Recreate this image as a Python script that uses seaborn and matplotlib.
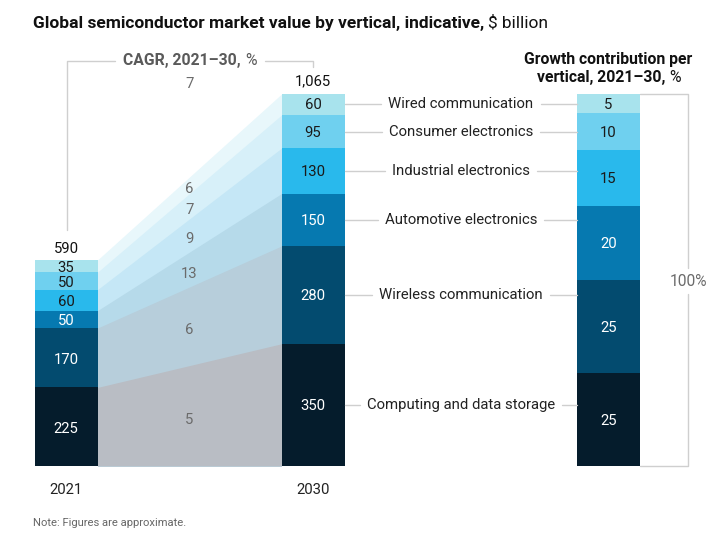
import matplotlib.pyplot as plt
from matplotlib.lines import Line2D
import numpy as np
import pandas as pd
import seaborn as sns

W, H = 722, 538

# data, bottom segment first
verticals = ['Computing and data storage', 'Wireless communication',
             'Automotive electronics', 'Industrial electronics',
             'Consumer electronics', 'Wired communication']
years = ['2021', '2030']
value_2021 = [225, 170, 50, 60, 50, 35]
value_2030 = [350, 280, 150, 130, 95, 60]
cagr = [5, 6, 13, 9, 7, 6]
cagr_total = 7
growth_share = [25, 25, 20, 15, 10, 5]

bar_colors = ['#051c2c', '#034b6f', '#0679b0', '#29b9ec', '#6fd0ef', '#a8e3ed']
band_colors = ['#b9bdc4', '#b7cedb', '#b6daea', '#c5e7f6', '#d7f0f9', '#e8f7fb']
text_on_bar = ['white', 'white', 'white', '#1a1a1a', '#1a1a1a', '#1a1a1a']

sns.set_theme(style='white')
plt.rcParams['font.family'] = ['Roboto', 'DejaVu Sans']

fig = plt.figure(figsize=(W / 100, H / 100), dpi=100)
ax = fig.add_axes([0, 0, 1, 1])
ax.set_axis_off()

# pixel layout of the main panel
x0_px, unit_px = 66, 247          # centre of 2021 bar, distance between bars
base_px, top_px = 466, 94         # baseline and top of the 2030 bar
yscale = (base_px - top_px) / sum(value_2030)
bw = 63 / unit_px

cum21 = np.cumsum(value_2021)
cum30 = np.cumsum(value_2030)
lo21 = cum21 - np.array(value_2021)
lo30 = cum30 - np.array(value_2030)

# connecting bands (drawn as overlapping areas from 0, top first)
xl, xr = bw / 2, 1 - bw / 2
for i in reversed(range(len(verticals))):
    ax.fill_between([xl, xr], [0, 0], [cum21[i], cum30[i]],
                    color=band_colors[i], lw=0, zorder=0.5)

# stacked bars via overlapping cumulative bars
for i in reversed(range(len(verticals))):
    df = pd.DataFrame({'year': years, 'value': [cum21[i], cum30[i]]})
    sns.barplot(data=df, x='year', y='value', color=bar_colors[i],
                saturation=1, width=bw, errorbar=None, linewidth=0, ax=ax)

ax.set_xlim(-x0_px / unit_px, (W - x0_px) / unit_px)
ax.set_ylim(-(H - base_px) / yscale, base_px / yscale)
ax.set_axis_off()

lab_size = 10.7
for i in range(len(verticals)):
    ax.text(0, lo21[i] + value_2021[i] / 2 - 2 / yscale, str(value_2021[i]),
            ha='center', va='center', fontsize=lab_size, color=text_on_bar[i])
    ax.text(1, lo30[i] + value_2030[i] / 2 - 1 / yscale, str(value_2030[i]),
            ha='center', va='center', fontsize=lab_size, color=text_on_bar[i])
    mid = ((lo21[i] + cum21[i]) / 2 + (lo30[i] + cum30[i]) / 2) / 2
    ax.text(0.5, mid - 4 / yscale, str(cagr[i]), ha='center', va='center',
            fontsize=lab_size, color='#6b6b6b')

ax.text(0, cum21[-1] + 7 / yscale, '{:,}'.format(cum21[-1]), ha='center',
        va='baseline', fontsize=lab_size, color='#111111')
ax.text(1, cum30[-1] + 9 / yscale, '{:,}'.format(cum30[-1]), ha='center',
        va='baseline', fontsize=lab_size, color='#111111')
ax.text(0.5, cum30[-1] + 6 / yscale, str(cagr_total), ha='center',
        va='baseline', fontsize=lab_size, color='#6b6b6b')
for j, yr in enumerate(years):
    ax.text(j, -28 / yscale, yr, ha='center', va='baseline',
            fontsize=lab_size, color='#222222')

# growth contribution bar on its own axes
gx_px, gw_px = 608.5, 63
gscale = (base_px - top_px) / sum(growth_share)
ax3 = fig.add_axes([0, 0, 1, 1])
ax3.patch.set_alpha(0)
gcum = np.cumsum(growth_share)
glo = gcum - np.array(growth_share)
for i in reversed(range(len(verticals))):
    sns.barplot(x=['share'], y=[gcum[i]], color=bar_colors[i], saturation=1,
                width=1, errorbar=None, linewidth=0, ax=ax3)
    ax3.text(0, glo[i] + growth_share[i] / 2 - 1.5 / gscale,
             str(growth_share[i]), ha='center', va='center', fontsize=lab_size,
             color=text_on_bar[i])
ax3.set_xlim(-gx_px / gw_px, (W - gx_px) / gw_px)
ax3.set_ylim(-(H - base_px) / gscale, base_px / gscale)
ax3.set_axis_off()

renderer = fig.canvas.get_renderer()
line_c = '#cfcfcf'


def fig_line(xs, ys):
    fig.add_artist(Line2D([x / W for x in xs], [1 - y / H for y in ys],
                          color=line_c, lw=1, transform=fig.transFigure))


def px_text(x, y, s, **kw):
    return fig.text(x / W, 1 - y / H, s, **kw)


def run_text(x, y, parts, ha='left', gap=4, **kw):
    arts, widths = [], []
    for s, wgt in parts:
        t = px_text(0, y, s, fontweight=wgt, va='baseline', **kw)
        arts.append(t)
        widths.append(t.get_window_extent(renderer).width)
    total = sum(widths) + gap * (len(parts) - 1)
    start = x - total / 2 if ha == 'center' else x
    left = start
    for t, wd in zip(arts, widths):
        t.set_x(start / W)
        start += wd + gap
    return left, left + total


# vertical names with leader lines
name_x = 461
for i in range(len(verticals)):
    y_px = base_px - (lo30[i] + value_2030[i] / 2) * yscale
    t = px_text(name_x, y_px, verticals[i], ha='center', va='center',
                fontsize=lab_size, color='#222222')
    bb = t.get_window_extent(renderer)
    fig_line([345, bb.x0 - 7], [y_px, y_px])
    fig_line([bb.x1 + 7, 577], [y_px, y_px])

# titles
run_text(33, 28, [('Global semiconductor market value by vertical, indicative,', 'bold'),
                  ('$ billion', 'normal')], fontsize=12.5, color='#111111')
l, r = run_text(190, 65, [('CAGR, 2021\u201330,', 'bold'), ('%', 'normal')],
                ha='center', fontsize=11.3, color='#5a5a5a')
fig_line([67, 67, l - 8], [230, 61, 61])
fig_line([r + 8, 313, 313], [61, 61, 67])
run_text(608.5, 64, [('Growth contribution per', 'bold')], ha='center',
         fontsize=11.3, color='#111111')
run_text(608.5, 82, [('vertical, 2021\u201330,', 'bold'), ('%', 'normal')],
         ha='center', fontsize=11.3, color='#111111')

# 100% bracket
fig_line([640, 688, 688], [94, 94, 268])
fig_line([688, 688, 640], [294, 466, 466])
px_text(688, 281, '100%', ha='center', va='center', fontsize=lab_size + 0.5,
        color='#6b6b6b')

px_text(33, 523, 'Note: Figures are approximate.', ha='left', va='center',
        fontsize=8.1, color='#666666')

fig.savefig('out.png', dpi=100)
